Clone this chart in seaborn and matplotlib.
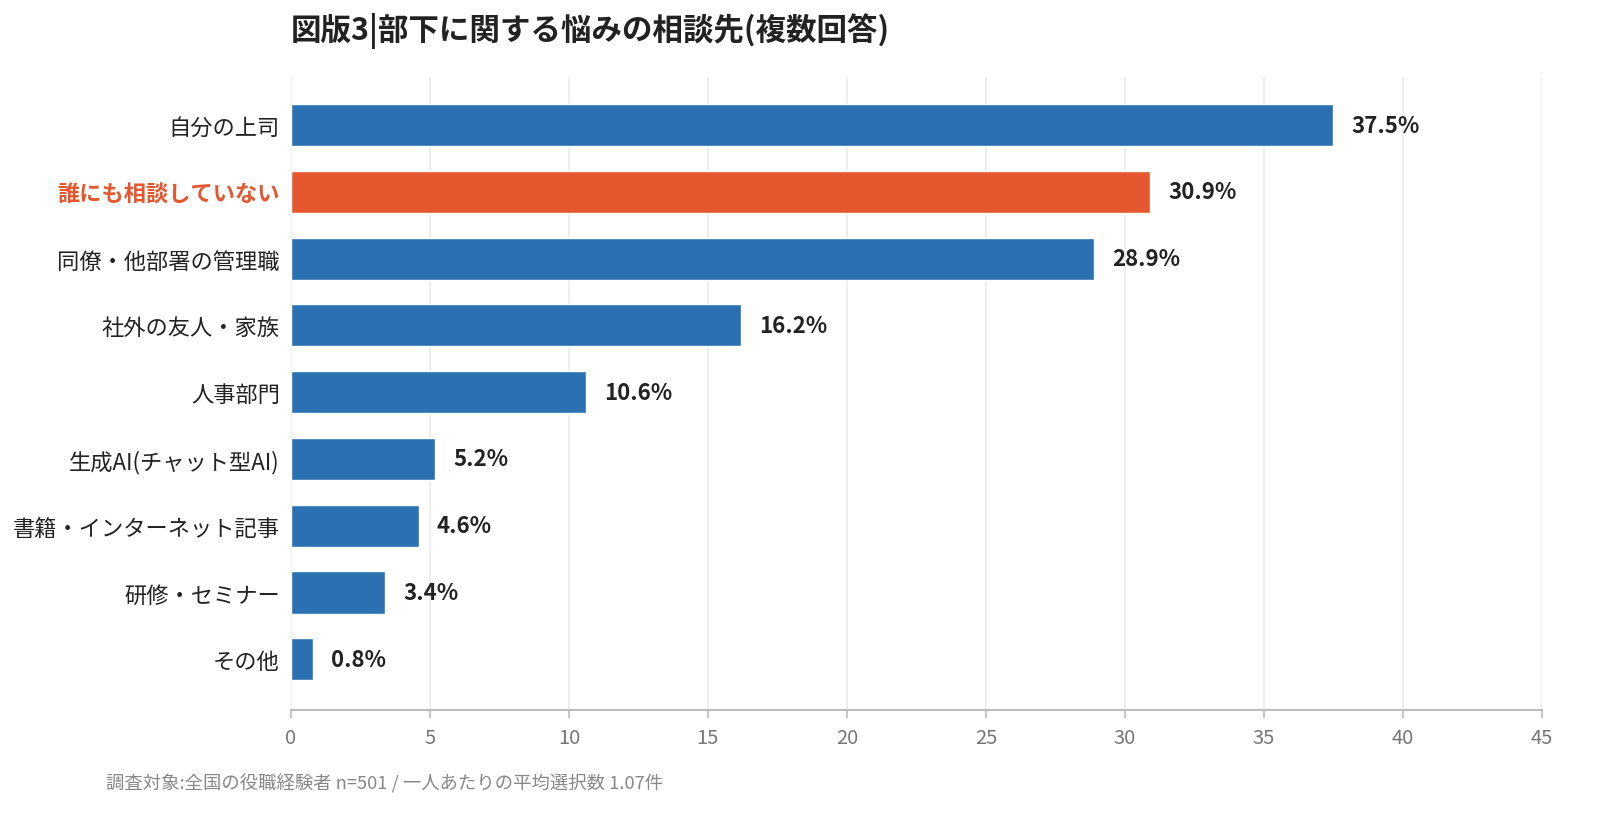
import matplotlib
matplotlib.use('Agg')
import matplotlib.pyplot as plt
import seaborn as sns
import pandas as pd

categories = ['自分の上司', '誰にも相談していない', '同僚・他部署の管理職', '社外の友人・家族',
              '人事部門', '生成AI(チャット型AI)', '書籍・インターネット記事', '研修・セミナー', 'その他']
values = [37.5, 30.9, 28.9, 16.2, 10.6, 5.2, 4.6, 3.4, 0.8]
highlight = '誰にも相談していない'
x_ticks = [0, 5, 10, 15, 20, 25, 30, 35, 40, 45]

title = '図版3|部下に関する悩みの相談先(複数回答)'
note = '調査対象:全国の役職経験者 n=501 / 一人あたりの平均選択数 1.07件'

blue = '#2B70B0'
orange = '#E5572F'

sns.set_theme(style='white')
plt.rcParams['font.family'] = ['Noto Sans CJK JP', 'DejaVu Sans']

df = pd.DataFrame({'category': categories, 'value': values})
palette = {c: (orange if c == highlight else blue) for c in categories}

fig = plt.figure(figsize=(16.02, 8.28), dpi=100)
ax = fig.add_axes([0.1816, 0.1413, 0.7809, 0.7645])

sns.barplot(data=df, x='value', y='category', hue='category', palette=palette,
            order=categories, width=0.63, legend=False, saturation=1, ax=ax)

for i, v in enumerate(values):
    ax.text(v + 0.65, i, f'{v}%', va='center', ha='left', fontsize=16,
            fontweight='bold', color='#222222')

ax.set_xlim(0, 45)
ax.set_ylim(8.76, -0.72)
ax.set_xticks(x_ticks)
ax.set_xticklabels([str(t) for t in x_ticks], fontsize=14.5, color='#777777')
ax.set_xlabel('')
ax.set_ylabel('')
ax.grid(axis='x', color='#EBEBEB', linewidth=1.2)
ax.set_axisbelow(True)
for side in ['top', 'right', 'left']:
    ax.spines[side].set_visible(False)
ax.spines['bottom'].set_color('#BBBBBB')
ax.spines['bottom'].set_linewidth(1.5)
ax.tick_params(axis='x', bottom=True, length=6, width=1.2, color='#BBBBBB', pad=6)
ax.tick_params(axis='y', left=False, pad=2)

for lbl in ax.get_yticklabels():
    lbl.set_fontsize(16)
    if lbl.get_text() == highlight:
        lbl.set_color(orange)
        lbl.set_fontweight('bold')
    else:
        lbl.set_color('#222222')

fig.text(0.1816, 0.963, title, fontsize=22, fontweight='bold', color='#222222',
         ha='left', va='center')
fig.text(0.066, 0.053, note, fontsize=13.2, color='#888888', ha='left', va='center')

fig.savefig('out.png', dpi=100)
